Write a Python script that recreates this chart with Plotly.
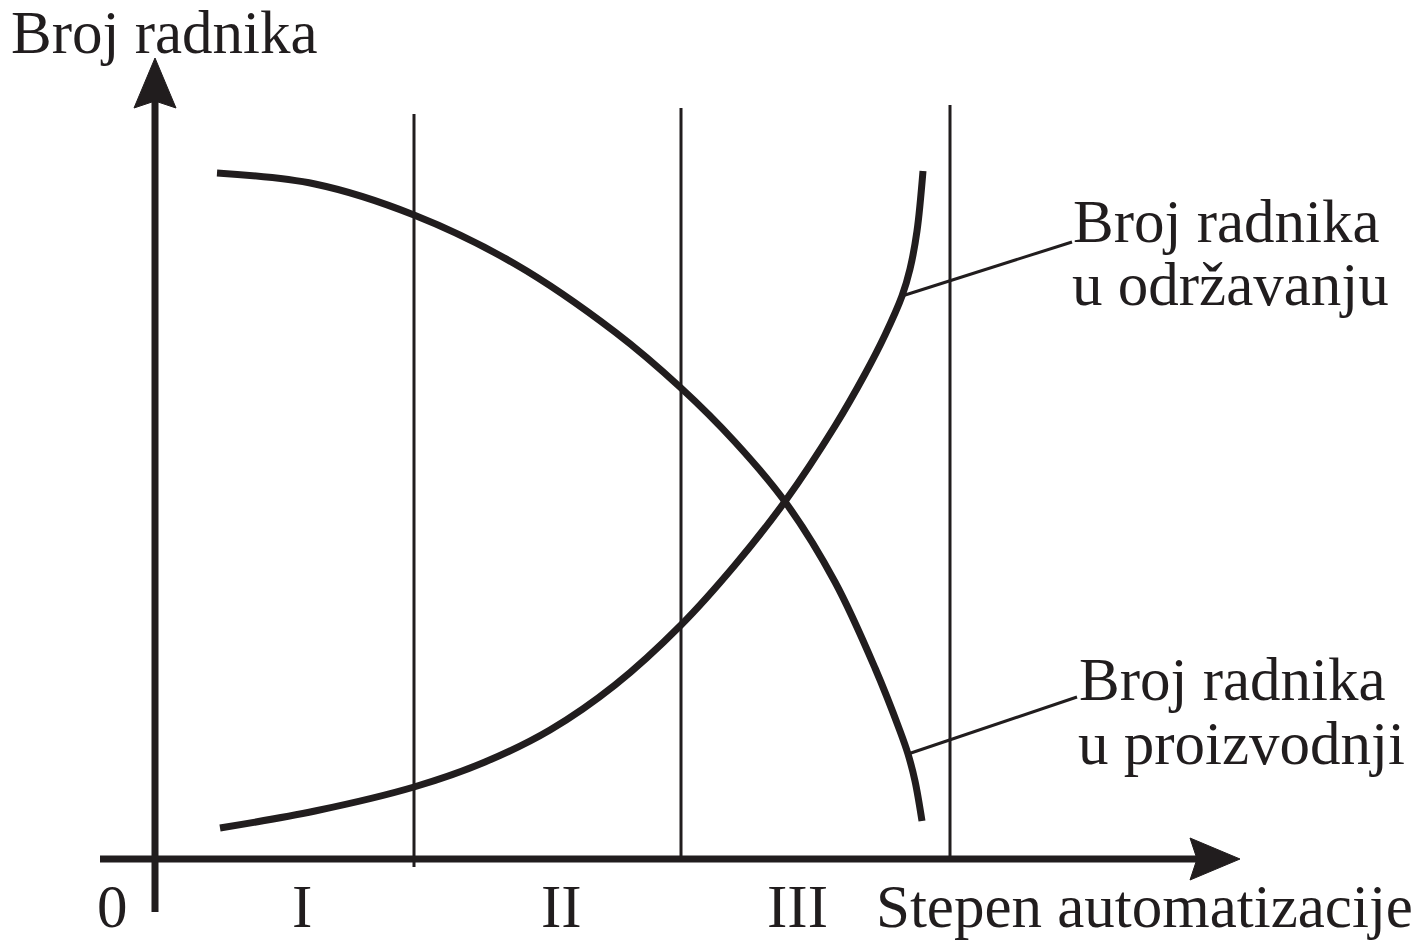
import plotly.graph_objects as go

# ---- data (automation degree on x, number of workers on y; origin at 0,0) ----
prod_x = [62, 160, 259, 360, 460, 526, 580, 631, 680, 720, 745, 753, 760, 767]
prod_y = [686, 675, 644, 595, 527, 471, 417, 356, 277, 191, 128, 105, 78, 38]

maint_x = [65, 160, 259, 330, 395, 460, 526, 580, 631, 680, 710, 730, 747, 755, 762, 768]
maint_y = [31, 48, 72, 97, 129, 174, 234, 294, 359, 433, 485, 524, 563, 590, 628, 688]

phase_bounds = [259, 526, 795]
phase_tops = [745, 751, 754]
phase_bottoms = [-8, 0, 0]
phase_labels = ["I", "II", "III"]
phase_label_x = [147, 406, 642]

maint_leader_x = [747, 917]
maint_leader_y = [563, 617]
prod_leader_x = [753, 922]
prod_leader_y = [105, 162]

x_axis_start, x_axis_tip = -55, 1085
y_axis_start, y_axis_tip = -53, 801
arrow_len, arrow_half, arrow_notch = 50, 21, 7

INK = "#211d1e"
FONT = "Liberation Serif, Times New Roman, serif"
FS = 61

fig = go.Figure()

# phase boundary lines
for xb, yt, yb in zip(phase_bounds, phase_tops, phase_bottoms):
    fig.add_trace(go.Scatter(x=[xb, xb], y=[yb, yt], mode="lines",
                             line=dict(color=INK, width=3), hoverinfo="skip"))

# axes lines
fig.add_trace(go.Scatter(x=[x_axis_start, x_axis_tip - arrow_len + arrow_notch], y=[0, 0],
                         mode="lines", line=dict(color=INK, width=7), hoverinfo="skip"))
fig.add_trace(go.Scatter(x=[0, 0], y=[y_axis_start, y_axis_tip - arrow_len + arrow_notch],
                         mode="lines", line=dict(color=INK, width=7), hoverinfo="skip"))

# arrowheads
fig.add_trace(go.Scatter(
    x=[x_axis_tip, x_axis_tip - arrow_len, x_axis_tip - arrow_len + arrow_notch, x_axis_tip - arrow_len, x_axis_tip],
    y=[0, arrow_half, 0, -arrow_half, 0],
    mode="lines", fill="toself", fillcolor=INK, line=dict(color=INK, width=1), hoverinfo="skip"))
fig.add_trace(go.Scatter(
    x=[0, -arrow_half, 0, arrow_half, 0],
    y=[y_axis_tip, y_axis_tip - arrow_len, y_axis_tip - arrow_len + arrow_notch, y_axis_tip - arrow_len, y_axis_tip],
    mode="lines", fill="toself", fillcolor=INK, line=dict(color=INK, width=1), hoverinfo="skip"))

# curves
fig.add_trace(go.Scatter(x=prod_x, y=prod_y, mode="lines",
                         line=dict(color=INK, width=7, shape="spline", smoothing=1.0),
                         name="Broj radnika u proizvodnji"))
fig.add_trace(go.Scatter(x=maint_x, y=maint_y, mode="lines",
                         line=dict(color=INK, width=7, shape="spline", smoothing=1.0),
                         name="Broj radnika u održavanju"))

# leader lines
fig.add_trace(go.Scatter(x=maint_leader_x, y=maint_leader_y, mode="lines",
                         line=dict(color=INK, width=3), hoverinfo="skip"))
fig.add_trace(go.Scatter(x=prod_leader_x, y=prod_leader_y, mode="lines",
                         line=dict(color=INK, width=3), hoverinfo="skip"))

def txt(x, y, s, anchor="left", yanchor="middle"):
    fig.add_annotation(x=x, y=y, text=s, showarrow=False, xanchor=anchor, yanchor=yanchor,
                       borderpad=0, font=dict(family=FONT, size=FS, color=INK))

txt(-145, 827, "Broj radnika")
BOTTOM = -82
txt(-43, BOTTOM, "0", "center", "bottom")
for lx, lab in zip(phase_label_x, phase_labels):
    txt(lx, BOTTOM, lab, "center", "bottom")
txt(720, BOTTOM, "Stepen automatizacije", "left", "bottom")
txt(917, 638, "Broj radnika")
txt(916, 575, "u održavanju")
txt(923, 180, "Broj radnika")
txt(922, 116, "u proizvodnji")

fig.update_layout(
    width=1427, height=941,
    margin=dict(l=0, r=0, t=0, b=0),
    paper_bgcolor="white", plot_bgcolor="white",
    showlegend=False,
    xaxis=dict(range=[-155, 1272], visible=False, fixedrange=True),
    yaxis=dict(range=[-82, 859], visible=False, fixedrange=True),
)

fig.write_html("out.html", config={"displayModeBar": False},
               post_script="document.body.style.margin='0px';document.body.style.overflow='hidden';")
